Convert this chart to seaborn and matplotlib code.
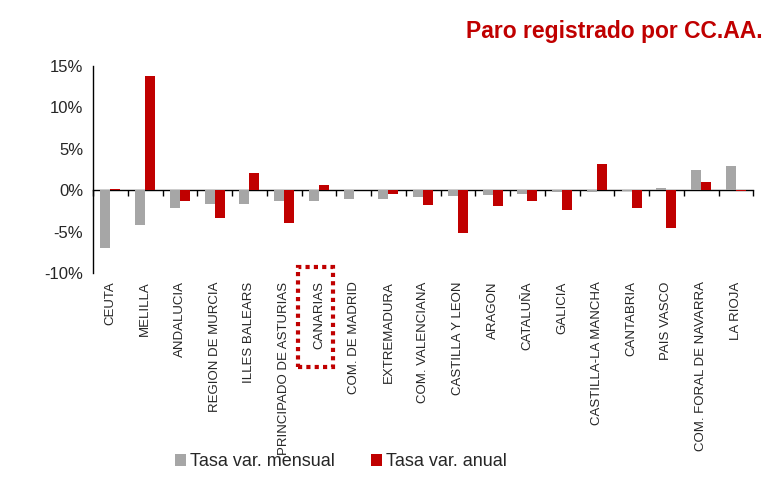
import numpy as np
import pandas as pd
import matplotlib
matplotlib.use("Agg")
import matplotlib.pyplot as plt
import matplotlib.patches as mpatches
import seaborn as sns

regions = ["CEUTA", "MELILLA", "ANDALUCIA", "REGION DE MURCIA", "ILLES BALEARS",
           "PRINCIPADO DE ASTURIAS", "CANARIAS", "COM. DE MADRID", "EXTREMADURA",
           "COM. VALENCIANA", "CASTILLA Y LEON", "ARAGON", "CATALUÑA", "GALICIA",
           "CASTILLA-LA MANCHA", "CANTABRIA", "PAIS VASCO", "COM. FORAL DE NAVARRA",
           "LA RIOJA"]
mensual = [-7.0, -4.25, -2.1, -1.65, -1.65, -1.3, -1.25, -1.1, -1.1,
           -0.8, -0.75, -0.6, -0.5, -0.2, -0.2, -0.05, 0.28, 2.4, 2.9]
anual = [0.15, 13.75, -1.35, -3.3, 2.1, -3.9, 0.6, 0.0, -0.4,
         -1.8, -5.1, -1.95, -1.25, -2.35, 3.2, -2.2, -4.6, 1.05, -0.05]
series = ["Tasa var. mensual", "Tasa var. anual"]
yticks = [-10, -5, 0, 5, 10, 15]

gray = "#A6A6A6"
red = "#C00000"

df = pd.DataFrame({
    "region": regions * 2,
    "valor": mensual + anual,
    "serie": [series[0]] * len(regions) + [series[1]] * len(regions),
})

sns.set_style("white")
plt.rcParams["font.family"] = ["Liberation Sans", "DejaVu Sans"]

fig = plt.figure(figsize=(7.75, 4.8), dpi=100)
ax = fig.add_axes([0.12, 0.431, 0.852, 0.4315])

sns.barplot(data=df, x="region", y="valor", hue="serie", palette=[gray, red],
            width=0.58, gap=0, linewidth=0, saturation=1, ax=ax)

ax.set_ylim(-10, 15)
ax.set_xlim(-0.5, len(regions) - 0.5)
ax.set_yticks(yticks)
ax.set_yticklabels([f"{v}%" for v in yticks], fontsize=12)
ax.set_xlabel("")
ax.set_ylabel("")
ax.tick_params(axis="x", length=0, pad=6, labelsize=9.5, labelrotation=90)
ax.tick_params(axis="y", direction="out", length=4, width=1, color="black", pad=3)
for s in ["top", "right", "bottom"]:
    ax.spines[s].set_visible(False)
ax.spines["left"].set_color("black")
ax.spines["left"].set_linewidth(1)

# zero line with category boundary ticks
sec = ax.secondary_xaxis(10 / 25)
sec.set_xticks(np.arange(-0.5, len(regions), 1.0))
sec.tick_params(direction="out", length=4, width=1, labelbottom=False, color="black")
sec.spines["bottom"].set_color("black")
sec.spines["bottom"].set_linewidth(1)

handles, labels = ax.get_legend_handles_labels()
ax.get_legend().remove()
fig.legend(handles, labels, loc="center", bbox_to_anchor=(0.44, 0.038), ncol=2,
           frameon=False, fontsize=13, handlelength=0.6, handleheight=0.6,
           handletextpad=0.25, columnspacing=2.0)

fig.text(0.984, 0.935, "Paro registrado por CC.AA.", color=red, fontsize=16.5,
         fontweight="bold", ha="right", va="center")

# dotted highlight around CANARIAS
fig.add_artist(mpatches.Rectangle((298 / 775, 1 - 367 / 480), 35 / 775, 100 / 480,
                                  transform=fig.transFigure, fill=False,
                                  edgecolor=red, linewidth=3, linestyle=(0, (1, 1))))

fig.savefig("out.png", dpi=100)
